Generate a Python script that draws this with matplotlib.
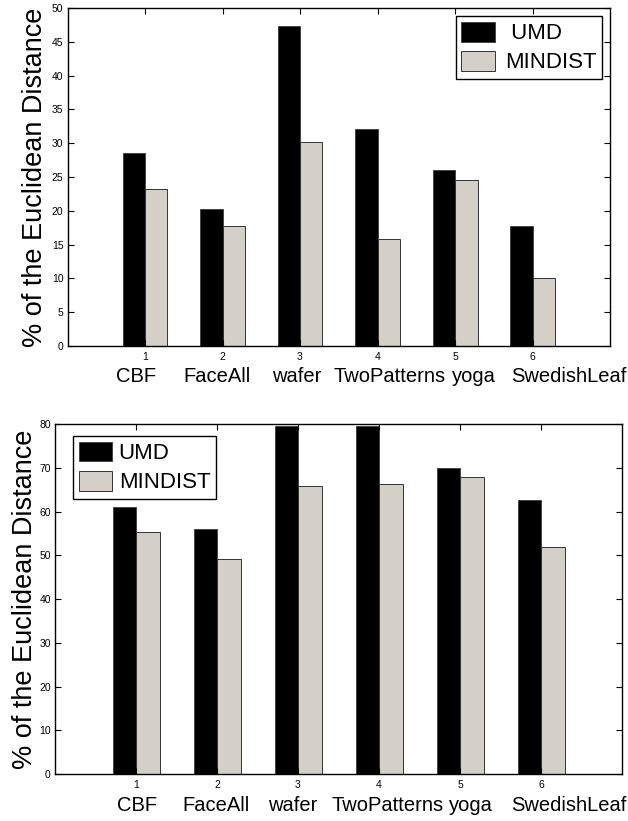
import numpy as np
import matplotlib
matplotlib.use("Agg")
import matplotlib.pyplot as plt

plt.rcParams['font.family'] = ['Liberation Sans', 'DejaVu Sans']

# Data
datasets = ["CBF", "FaceAll", "wafer", "TwoPatterns", "yoga", "SwedishLeaf"]
idx = np.arange(1, 7)

# top panel
umd_top = [28.5, 20.3, 47.3, 32.1, 26.1, 17.8]
mindist_top = [23.2, 17.8, 30.2, 15.8, 24.6, 10.0]
# bottom panel
umd_bot = [61.0, 56.0, 79.5, 79.5, 70.0, 62.6]
mindist_bot = [55.3, 49.2, 65.9, 66.4, 67.8, 51.9]

# where the dataset names sit (data x)
name_x_top = [0.88, 1.93, 2.96, 4.16, 5.25, 5.72]
name_x_bot = [1.01, 1.99, 2.94, 4.10, 5.14, 5.63]

light = '#d4d0c8'
w = 0.29

fig = plt.figure(figsize=(6.28, 8.21), dpi=100)
ax1 = fig.add_axes([0.1075, 0.5786, 0.8639, 0.4117])
ax2 = fig.add_axes([0.0876, 0.0572, 0.9029, 0.4263])


def panel(ax, umd, mind, ymax, ystep, name_x, leg_loc, leg_anchor, umd_lab, pad, ylab_x):
    ax.bar(idx - w/2, umd, w, color='black', edgecolor='#444444', linewidth=0.7, label=umd_lab)
    ax.bar(idx + w/2, mind, w, color=light, edgecolor='#333333', linewidth=0.7, label='MINDIST')
    ax.set_xlim(0, 7)
    ax.set_ylim(0, ymax)
    ax.set_xticks(idx)
    ax.set_yticks(np.arange(0, ymax + 1, ystep))
    ax.tick_params(direction='in', top=True, right=True, length=4, width=0.8,
                   labelsize=7.5)
    ax.tick_params(axis='x', pad=4)
    ax.tick_params(axis='y', pad=3)
    for s in ax.spines.values():
        s.set_linewidth(1.0)
    # dataset names under the tick numbers
    for xx, name in zip(name_x, datasets):
        ha = 'left' if name == "SwedishLeaf" else 'center'
        ax.text(xx, -0.106, name, transform=ax.get_xaxis_transform(),
                ha=ha, va='baseline', fontsize=14.5, clip_on=False)
    ax.set_ylabel("% of the Euclidean Distance", fontsize=19.5)
    ax.yaxis.set_label_coords(ylab_x, 0.5)
    leg = ax.legend(loc=leg_loc, bbox_to_anchor=leg_anchor, borderaxespad=0,
                    fontsize=16, fancybox=False, framealpha=1, edgecolor='black',
                    handlelength=1.5, handleheight=1.0, handletextpad=pad,
                    borderpad=0.25, labelspacing=0.3)
    leg.get_frame().set_linewidth(1.0)


panel(ax1, umd_top, mindist_top, 50, 5, name_x_top, 'upper right', (0.985, 0.976),
      ' UMD', 0.45, -0.036)
panel(ax2, umd_bot, mindist_bot, 80, 10, name_x_bot, 'upper left', (0.032, 0.966),
      'UMD', 0.3, -0.030)

fig.savefig("out.png", dpi=100)
